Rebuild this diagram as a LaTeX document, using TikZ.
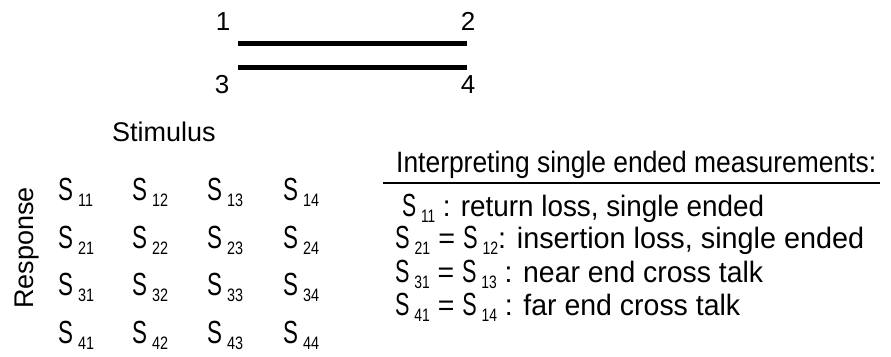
\documentclass[tikz,border=0pt]{standalone}
\usepackage{fontspec}
\setmainfont{Liberation Sans}
\newfontfamily\condfont[FakeStretch=0.8]{Liberation Sans}
\newfontfamily\sfont[FakeStretch=0.7]{Liberation Sans}
\newcommand{\Sx}[1]{{\sfont\fontsize{32}{32}\selectfont S}\hspace{5pt}{\condfont\fontsize{18}{18}\selectfont\raisebox{-6pt}{#1}}}
\newcommand{\Sm}[1]{{\sfont\fontsize{32}{32}\selectfont S}\hspace{5pt}{\condfont\fontsize{18}{18}\selectfont\raisebox{-6pt}{#1}}}
\newcommand{\fitw}[2]{\resizebox{#1}{\height}{#2}}
\begin{document}
\begin{tikzpicture}[x=1pt,y=-1pt,
  lbl/.style={inner sep=0pt,anchor=base west,font=\fontsize{27}{27}\selectfont},
  num/.style={inner sep=0pt,anchor=base,font=\fontsize{26}{26}\selectfont},
  mat/.style={inner sep=0pt,anchor=base west,font=\fontsize{30}{30}\selectfont},
  txt/.style={inner sep=0pt,anchor=base west,font=\fontsize{29.5}{29.5}\selectfont},
  wire/.style={line width=5pt}]
\useasboundingbox (0,0) rectangle (891,356);
% transmission lines
\coordinate (l1a) at (238,43.5);
\coordinate (l1b) at (467,43.5);
\coordinate (l2a) at (238,67);
\coordinate (l2b) at (467,67);
\draw[wire] (l1a) -- (l1b);
\draw[wire] (l2a) -- (l2b);
\node[num] (p1) at (223,30) {1};
\node[num] (p2) at (468,30) {2};
\node[num] (p3) at (222,93) {3};
\node[num] (p4) at (468,93) {4};
% labels
\node[lbl] (stim) at (112,141) {Stimulus};
\node[lbl,anchor=base,rotate=90] (resp) at (33,248) {Response};
% matrix
\foreach \r/\y in {1/200,2/248,3/295,4/343}{
  \foreach \c/\x in {1/58,2/132,3/207,4/283}{
    \node[mat] (s\r\c) at (\x,\y) {\Sm{\r\c}};
  }
}
% interpretation
\node[txt] (head) at (396,172) {\fitw{480pt}{Interpreting single ended measurements:}};
\coordinate (ula) at (383,182.5);
\coordinate (ulb) at (880,182.5);
\draw[line width=2pt] (ula) -- (ulb);
\node[txt] (t1) at (402,216) {\fitw{362pt}{\Sx{11} : return loss, single ended}};
\node[txt] (t2) at (395,248) {\fitw{469pt}{\Sx{21} = \Sx{12}: insertion loss, single ended}};
\node[txt] (t3) at (395,282) {\fitw{368pt}{\Sx{31} = \Sx{13} : near end cross talk}};
\node[txt] (t4) at (395,315) {\fitw{345pt}{\Sx{41} = \Sx{14} : far end cross talk}};
\end{tikzpicture}
\end{document}
